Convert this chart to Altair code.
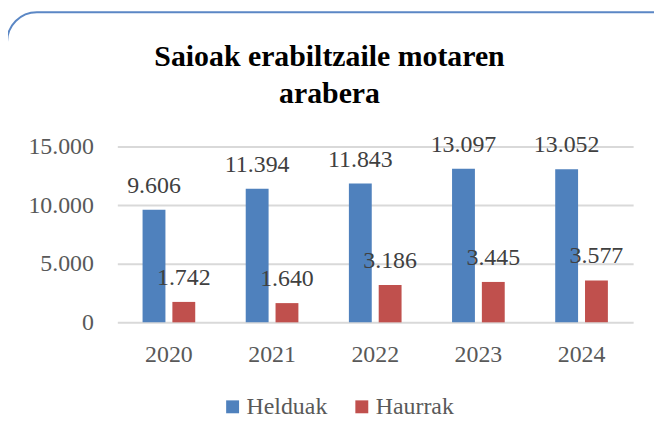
import altair as alt
import pandas as pd

years = ["2020", "2021", "2022", "2023", "2024"]
helduak = [9606, 11394, 11843, 13097, 13052]
haurrak = [1742, 1640, 3186, 3445, 3577]
series = ["Helduak", "Haurrak"]
colors = ["#4f81bd", "#c0504d"]
title_lines = ["Saioak erabiltzaile motaren", "arabera"]

rows = []
for i, y in enumerate(years):
    rows.append({"year": y, "serie": series[0], "value": helduak[i]})
    rows.append({"year": y, "serie": series[1], "value": haurrak[i]})
df = pd.DataFrame(rows)

FONT = "'Liberation Serif', 'DejaVu Serif', serif"

x = alt.X("year:N", title=None, sort=years,
          scale=alt.Scale(paddingInner=0.422, paddingOuter=0.211),
          axis=alt.Axis(labelAngle=0, domain=False, ticks=False, labelPadding=20,
                        labelFontSize=24, labelFont=FONT, labelColor="#595959"))
xoff = alt.XOffset("serie:N", sort=series,
                   scale=alt.Scale(paddingInner=0.233, paddingOuter=0.1167))
y = alt.Y("value:Q", title=None,
          scale=alt.Scale(domain=[0, 15000], nice=False),
          axis=alt.Axis(values=[0, 5000, 10000, 15000], domain=False, ticks=False,
                        labelPadding=24, labelFontSize=24, labelFont=FONT,
                        labelColor="#595959", gridColor="#d9d9d9", gridWidth=2,
                        labelExpr="replace(format(datum.value, ',d'), ',', '.')"))
color = alt.Color("serie:N", sort=series,
                  scale=alt.Scale(domain=series, range=colors),
                  legend=alt.Legend(title=None, orient="none", direction="horizontal",
                                    legendX=104, legendY=250, padding=0,
                                    symbolType="square", symbolSize=169,
                                    symbolStrokeWidth=0, labelFontSize=24,
                                    labelFont=FONT, labelColor="#595959",
                                    labelOffset=2, columnPadding=22))

base = alt.Chart(df)

bars = base.mark_bar().encode(x=x, xOffset=xoff, y=y, color=color)

labels = base.transform_calculate(
    lbl="replace(format(datum.value, ',d'), ',', '.')"
).mark_text(font=FONT, fontSize=24, color="#404040", baseline="alphabetic", dy=-17).encode(
    x=x, xOffset=xoff, y=y, text="lbl:N")

border = alt.Chart(pd.DataFrame({"a": [0]})).mark_rect(
    filled=False, stroke="#5b87c5", strokeWidth=2, cornerRadius=30
).encode(x=alt.value(-111), x2=alt.value(600), y=alt.value(-135), y2=alt.value(320))

chart = alt.layer(border, bars, labels).properties(
    width=519, height=177,
    padding={"left": 110, "top": 138, "right": 21, "bottom": 101},
    autosize=alt.AutoSizeParams(type="none"),
    title=alt.TitleParams(text=title_lines, anchor="middle", frame="group",
                          font=FONT, fontSize=30, fontWeight="bold", color="#000000",
                          lineHeight=37, dx=-46, dy=98, offset=0),
).configure_view(stroke=None)

chart.save("out.html", embed_options={"renderer": "svg", "actions": False})
